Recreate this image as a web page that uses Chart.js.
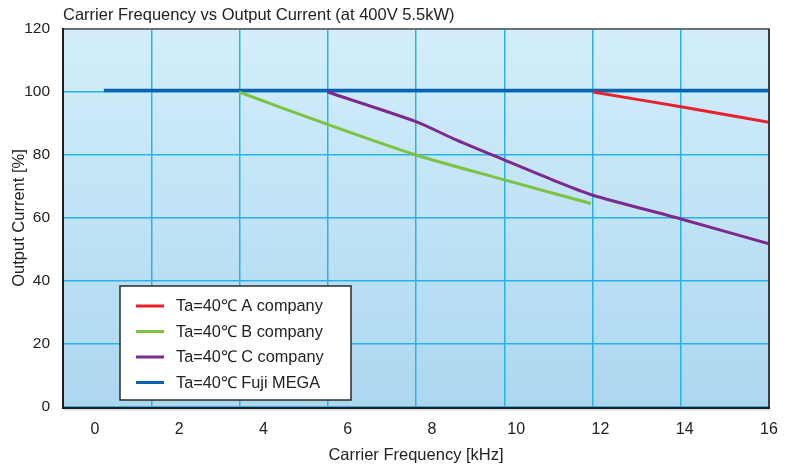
<!DOCTYPE html>
<html>
<head>
<meta charset="utf-8">
<script src="https://cdn.jsdelivr.net/npm/chart.js@4.4.1/dist/chart.umd.min.js"></script>
<style>
  html, body { margin: 0; padding: 0; background: #ffffff; }
  #wrap { width: 791px; height: 466px; }
</style>
</head>
<body>
<div id="wrap"><canvas id="myChart" width="791" height="466"></canvas></div>
<script>
// --- data ---
const seriesLabels = ['Ta=40℃ A company', 'Ta=40℃ B company', 'Ta=40℃ C company', 'Ta=40℃ Fuji MEGA'];
const seriesColors = ['#e8212b', '#7cc243', '#7d2a90', '#0b62ae'];

const aX = [11.82, 13.91, 16.0];
const aY = [100, 95.3, 90.4];
const bX = [3.42, 5.52, 7.62, 9.72, 11.77];
const bY = [100, 89.7, 80.0, 72.1, 64.6];
const cX = [5.52, 7.62, 8.49, 9.72, 10.86, 11.80, 13.91, 16.0];
const cY = [100, 90.6, 85.3, 78.4, 72.1, 67.3, 59.7, 51.8];
const fujiX = [0.21, 16.0];
const fujiY = [100.5, 100.5];

const xTickValues = [0, 2, 4, 6, 8, 10, 12, 14, 16];
const yTickValues = [0, 20, 40, 60, 80, 100, 120];
const gridSteps = [1, 2, 3, 4, 5, 6, 7, 8];

const titleText = 'Carrier Frequency vs Output Current (at 400V 5.5kW)';
const xTitle = 'Carrier Frequency [kHz]';
const yTitle = 'Output Current [%]';

const toPoints = (xs, ys) => xs.map((x, i) => ({ x, y: ys[i] }));
const allX = [aX, bX, cX, fujiX];
const allY = [aY, bY, cY, fujiY];

const FONT = '"Liberation Sans", Arial, sans-serif';
const textColor = '#222222';

const plotBackground = {
  id: 'plotBackground',
  beforeDraw: (chart) => {
    const { ctx, chartArea } = chart;
    if (!chartArea) return;
    const g = ctx.createLinearGradient(0, chartArea.top, 0, chartArea.bottom);
    g.addColorStop(0, '#d3eefa');
    g.addColorStop(1, '#acd7f0');
    ctx.save();
    ctx.fillStyle = g;
    ctx.fillRect(chartArea.left, chartArea.top, chartArea.width, chartArea.height);
    ctx.restore();
  },
  afterDraw: (chart) => {
    const { ctx, chartArea } = chart;
    const { left, right, top, bottom } = chartArea;
    ctx.save();
    // frame
    ctx.lineWidth = 2;
    ctx.strokeStyle = '#6f7275';
    ctx.beginPath(); ctx.moveTo(left, top); ctx.lineTo(right + 1, top); ctx.stroke();
    ctx.strokeStyle = '#3a3d40';
    ctx.beginPath(); ctx.moveTo(right, top); ctx.lineTo(right, bottom); ctx.stroke();
    ctx.strokeStyle = '#1e1e1e';
    ctx.beginPath(); ctx.moveTo(left, top - 1); ctx.lineTo(left, bottom + 1); ctx.lineTo(right + 1, bottom + 1); ctx.stroke();
    ctx.strokeStyle = '#c8c8c8';
    ctx.lineWidth = 1;
    ctx.beginPath(); ctx.moveTo(left + 1, bottom + 3); ctx.lineTo(right + 2, bottom + 3); ctx.stroke();

    // title
    ctx.fillStyle = textColor;
    ctx.font = '16.5px ' + FONT;
    ctx.textAlign = 'left';
    ctx.textBaseline = 'middle';
    ctx.fillText(titleText, left, 15);

    // legend box
    const bx = 120, by = 286, bw = 231, bh = 114;
    ctx.fillStyle = '#ffffff';
    ctx.fillRect(bx, by, bw, bh);
    ctx.strokeStyle = '#2a2a2a';
    ctx.lineWidth = 1.5;
    ctx.strokeRect(bx, by, bw, bh);
    ctx.font = '16.3px ' + FONT;
    chart.data.datasets.forEach((ds, i) => {
      const yy = 306 + i * 25.5;
      ctx.strokeStyle = ds.borderColor;
      ctx.lineWidth = 3;
      ctx.beginPath(); ctx.moveTo(136, yy); ctx.lineTo(164, yy); ctx.stroke();
      ctx.fillStyle = textColor;
      ctx.fillText(ds.label, 176, yy + 1);
    });
    ctx.restore();
  }
};

const ctx = document.getElementById('myChart').getContext('2d');

const myChart = new Chart(ctx, {
  type: 'line',
  data: {
    datasets: seriesLabels.map((label, i) => ({
      label,
      data: toPoints(allX[i], allY[i]),
      borderColor: seriesColors[i],
      borderWidth: i === 3 ? 3.5 : 3,
      pointRadius: 0,
      tension: 0.25,
      fill: false
    }))
  },
  options: {
    responsive: false,
    animation: false,
    layout: { padding: { top: 29, right: 22, left: 0, bottom: 0 } },
    plugins: {
      legend: { display: false },
      title: { display: false },
      tooltip: { enabled: false }
    },
    scales: {
      x: {
        type: 'linear',
        position: 'bottom',
        min: -0.76,
        max: 16,
        afterBuildTicks: (scale) => { scale.ticks = xTickValues.map(v => ({ value: v })); },
        afterFit: (scale) => { scale.height = 59; },
        grid: { display: false },
        border: { display: false },
        ticks: {
          color: textColor,
          font: { family: FONT, size: 16 },
          padding: 5,
          maxRotation: 0,
          autoSkip: false
        },
        title: {
          display: true,
          text: xTitle,
          color: textColor,
          font: { family: FONT, size: 16.5 },
          padding: { top: 4, bottom: 1 }
        }
      },
      xg: {
        type: 'linear',
        position: 'top',
        min: 0,
        max: 8,
        afterBuildTicks: (scale) => { scale.ticks = gridSteps.map(v => ({ value: v })); },
        afterFit: (scale) => { scale.height = 0; },
        grid: { color: '#26b3ea', lineWidth: 1.5, drawTicks: false },
        border: { display: false },
        ticks: { display: false }
      },
      y: {
        min: 0,
        max: 120,
        afterBuildTicks: (scale) => { scale.ticks = yTickValues.map(v => ({ value: v })); },
        afterFit: (scale) => { scale.width = 63; },
        grid: { color: '#26b3ea', lineWidth: 1.5, drawTicks: false },
        border: { display: false },
        ticks: {
          color: textColor,
          font: { family: FONT, size: 15.5 },
          padding: 13
        },
        title: {
          display: true,
          text: yTitle,
          color: textColor,
          font: { family: FONT, size: 16.5 },
          padding: { top: 10, bottom: 0 }
        }
      }
    }
  },
  plugins: [plotBackground]
});
</script>
</body>
</html>
